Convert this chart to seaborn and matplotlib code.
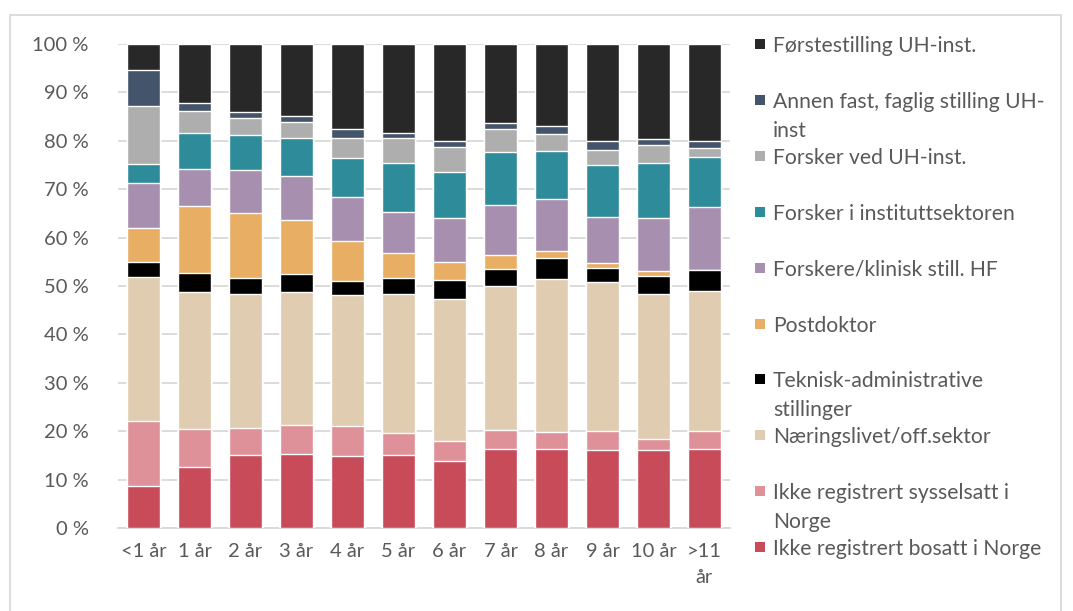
import matplotlib
matplotlib.use("Agg")
import matplotlib.pyplot as plt
from matplotlib.patches import Rectangle
import numpy as np
import seaborn as sns

# Years since degree
categories = ["<1 år", "1 år", "2 år", "3 år", "4 år", "5 år", "6 år",
              "7 år", "8 år", "9 år", "10 år", ">11\når"]

# Share (%) in each position, bottom of the stack first
ikke_bosatt = [8.6, 12.7, 15.0, 15.3, 14.9, 15.0, 13.9, 16.4, 16.4, 16.1, 16.1, 16.4]
ikke_sysselsatt = [13.6, 7.8, 5.6, 6.0, 6.1, 4.6, 4.0, 3.9, 3.5, 4.0, 2.3, 3.7]
naeringsliv = [29.6, 28.2, 27.8, 27.4, 27.2, 28.8, 29.5, 29.7, 31.6, 30.7, 30.0, 28.8]
teknisk_adm = [3.1, 3.9, 3.2, 3.7, 2.9, 3.2, 3.9, 3.6, 4.2, 3.0, 3.7, 4.5]
postdoktor = [7.0, 13.9, 13.4, 11.2, 8.3, 5.3, 3.6, 2.8, 1.5, 0.9, 1.1, 0.0]
forskere_hf = [9.3, 7.6, 8.9, 9.1, 8.9, 8.3, 9.2, 10.3, 10.8, 9.5, 10.8, 13.0]
forsker_institutt = [4.0, 7.5, 7.3, 7.8, 8.1, 10.3, 9.5, 10.9, 9.8, 10.8, 11.4, 10.3]
forsker_uh = [12.0, 4.5, 3.5, 3.3, 4.1, 5.0, 5.1, 4.8, 3.6, 3.1, 3.7, 1.9]
annen_fast_uh = [7.4, 1.7, 1.3, 1.3, 1.9, 1.2, 1.3, 1.2, 1.6, 1.9, 1.2, 1.3]
forstestilling_uh = [5.4, 12.2, 14.0, 14.9, 17.6, 18.3, 20.0, 16.4, 17.0, 20.0, 19.7, 20.1]

series_labels = [
    "Ikke registrert bosatt i Norge",
    "Ikke registrert sysselsatt i\nNorge",
    "Næringslivet/off.sektor",
    "Teknisk-administrative\nstillinger",
    "Postdoktor",
    "Forskere/klinisk still. HF",
    "Forsker i instituttsektoren",
    "Forsker ved UH-inst.",
    "Annen fast, faglig stilling UH-\ninst",
    "Førstestilling UH-inst.",
]
series_values = [ikke_bosatt, ikke_sysselsatt, naeringsliv, teknisk_adm, postdoktor,
                 forskere_hf, forsker_institutt, forsker_uh, annen_fast_uh,
                 forstestilling_uh]
colors = ["#C84B5A", "#DE9199", "#E0CCB0", "#000000", "#E8AE64",
          "#A78FB0", "#2E8B9A", "#AEAEAE", "#44546A", "#282828"]

sns.set_theme(style="white")
plt.rcParams["font.family"] = ["Lato", "DejaVu Sans"]
TEXT = "#595959"
GRID = "#D9D9D9"
FS = 14.5
FS_LEG = 15.2

W, H = 1073, 611
fig = plt.figure(figsize=(W / 100, H / 100), dpi=100)
ax = fig.add_axes([118 / W, 83 / H, 612 / W, 484 / H])

# Stacked bars: draw cumulative totals from the top layer down
cum = np.cumsum(np.array(series_values, dtype=float), axis=0)
for i in reversed(range(len(series_values))):
    sns.barplot(x=categories, y=cum[i], color=colors[i], saturation=1,
                width=0.63, edgecolor="white", linewidth=1.0,
                errorbar=None, ax=ax, zorder=3)

ax.set_xlim(-0.5, len(categories) - 0.5)
ax.set_ylim(0, 100)
yt = list(range(0, 101, 10))
ax.set_yticks(yt)
ax.set_yticklabels([f"{v} %" for v in yt])
ax.yaxis.grid(True, color=GRID, lw=1.3)
ax.xaxis.grid(False)
ax.set_axisbelow(True)
for s in ["top", "right", "left"]:
    ax.spines[s].set_visible(False)
ax.spines["bottom"].set_color(GRID)
ax.spines["bottom"].set_linewidth(1.3)
ax.tick_params(axis="both", length=0, labelsize=FS, colors=TEXT)
ax.tick_params(axis="y", pad=21)
ax.tick_params(axis="x", pad=11)
for lbl in ax.get_xticklabels():
    lbl.set_linespacing(1.6)
ax.set_xlabel("")
ax.set_ylabel("")

# Legend on the right, top layer listed first
slot_top, slot_step, line_step = 44, 55.9, 29
for k, i in enumerate(reversed(range(len(series_labels)))):
    yc = slot_top + k * slot_step
    fig.patches.append(Rectangle((755 / W, 1 - (yc + 5) / H), 10 / W, 10 / H,
                                 transform=fig.transFigure,
                                 facecolor=colors[i], edgecolor="none"))
    for j, line in enumerate(series_labels[i].split("\n")):
        fig.text(773 / W, 1 - (yc + j * line_step) / H, line,
                 fontsize=FS_LEG, color=TEXT, va="center_baseline", ha="left")

# Chart area frame
fig.patches.append(Rectangle((10 / W, -0.02), 1051 / W, 1.02 - 15 / H,
                             transform=fig.transFigure, fill=False,
                             edgecolor=GRID, linewidth=1.3))

fig.savefig("out.png", dpi=100)
